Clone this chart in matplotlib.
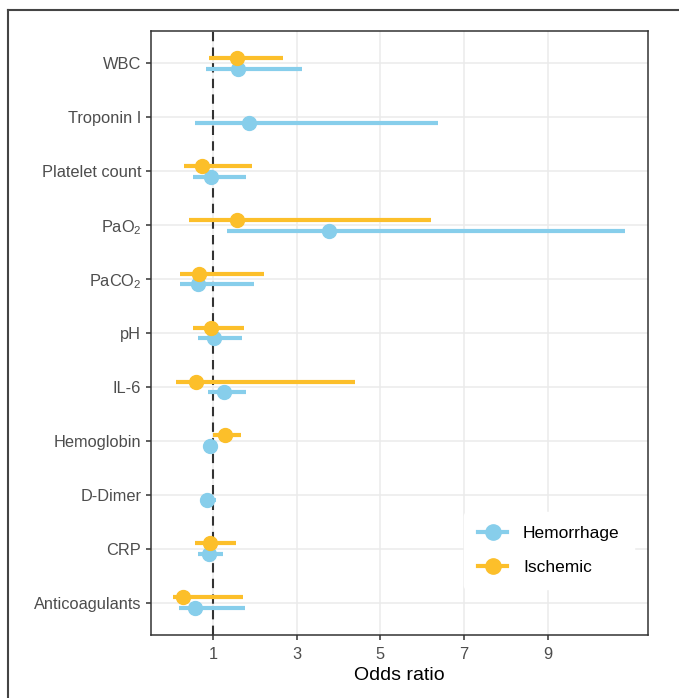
import numpy as np
import matplotlib
matplotlib.use('Agg')
import matplotlib.pyplot as plt
from matplotlib.lines import Line2D

plt.rcParams['font.family'] = ['Liberation Sans', 'DejaVu Sans']
plt.rcParams['mathtext.fontset'] = 'custom'
plt.rcParams['mathtext.rm'] = 'Liberation Sans'
plt.rcParams['mathtext.it'] = 'Liberation Sans:italic'

categories = ['WBC', 'Troponin I', 'Platelet count', r'PaO$_2$', r'PaCO$_2$', 'pH',
              'IL-6', 'Hemoglobin', 'D-Dimer', 'CRP', 'Anticoagulants']

# Hemorrhage: odds ratio and 95% CI
hem_or = [1.58, 1.86, 0.94, 3.78, 0.63, 1.02, 1.25, 0.93, 0.86, 0.89, 0.56]
hem_lo = [0.83, 0.56, 0.52, 1.33, 0.20, 0.63, 0.87, 0.88, 0.72, 0.64, 0.18]
hem_hi = [3.12, 6.38, 1.78, 10.86, 1.98, 1.68, 1.78, 0.98, 1.07, 1.23, 1.76]

# Ischemic: odds ratio and 95% CI (nan = not reported)
isc_or = [1.56, np.nan, 0.74, 1.57, 0.67, 0.94, 0.59, 1.29, np.nan, 0.93, 0.28]
isc_lo = [0.90, np.nan, 0.31, 0.41, 0.20, 0.52, 0.11, 0.99, np.nan, 0.57, 0.04]
isc_hi = [2.68, np.nan, 1.93, 6.22, 2.21, 1.74, 4.39, 1.66, np.nan, 1.54, 1.71]

xticks = [1, 3, 5, 7, 9]

blue = '#87CEEB'
orange = '#FCBF2A'

fig = plt.figure(figsize=(6.79, 6.98), dpi=100)
ax = fig.add_axes([0.2224, 0.0903, 0.7324, 0.8653])

n = len(categories)
ypos = np.arange(n)[::-1] + 1  # WBC on top
off = 0.1

for i in range(n):
    y = ypos[i]
    ax.plot([hem_lo[i], hem_hi[i]], [y - off, y - off], color=blue, lw=3, solid_capstyle='butt', zorder=3)
    ax.plot(hem_or[i], y - off, 'o', color=blue, ms=10, zorder=4)
    if not np.isnan(isc_or[i]):
        ax.plot([isc_lo[i], isc_hi[i]], [y + off, y + off], color=orange, lw=3, solid_capstyle='butt', zorder=3)
        ax.plot(isc_or[i], y + off, 'o', color=orange, ms=10, zorder=4)

ax.axvline(1, color='#333333', ls=(0, (4.5, 3)), lw=1.5, zorder=2)

ax.set_xlim(-0.49, 11.41)
ax.set_ylim(0.4, n + 0.6)
ax.set_xticks(xticks)
ax.set_yticks(ypos)
ax.set_yticklabels(categories)
ax.grid(True, color='#EBEBEB', lw=1.1, zorder=0)
ax.set_axisbelow(True)
for s in ax.spines.values():
    s.set_color('#333333')
    s.set_linewidth(1.1)
ax.tick_params(axis='both', colors='#333333', length=3.5, width=1.1, labelcolor='#4D4D4D', labelsize=11.8)
ax.tick_params(axis='x', pad=5)
ax.set_xlabel('Odds ratio', fontsize=14, color='black', labelpad=4)

handles = [Line2D([], [], color=blue, lw=3, marker='o', ms=11),
           Line2D([], [], color=orange, lw=3, marker='o', ms=11)]
leg = ax.legend(handles, ['Hemorrhage', 'Ischemic'], loc='center',
                bbox_to_anchor=(0.80, 0.14), frameon=True, fontsize=12.5,
                handlelength=1.7, labelspacing=1.05, borderpad=0.8, handletextpad=0.9)
leg.get_frame().set_edgecolor('white')
leg.get_frame().set_facecolor('white')
leg.get_frame().set_alpha(1)

# outer border lines (top and left)
fig.add_artist(Line2D([8 / 679, 1], [1 - 10 / 698, 1 - 10 / 698], transform=fig.transFigure,
                      color='#444444', lw=1.5))
fig.add_artist(Line2D([8 / 679, 8 / 679], [0, 1 - 10 / 698], transform=fig.transFigure,
                      color='#444444', lw=1.5))

fig.savefig('out.png', dpi=100)
